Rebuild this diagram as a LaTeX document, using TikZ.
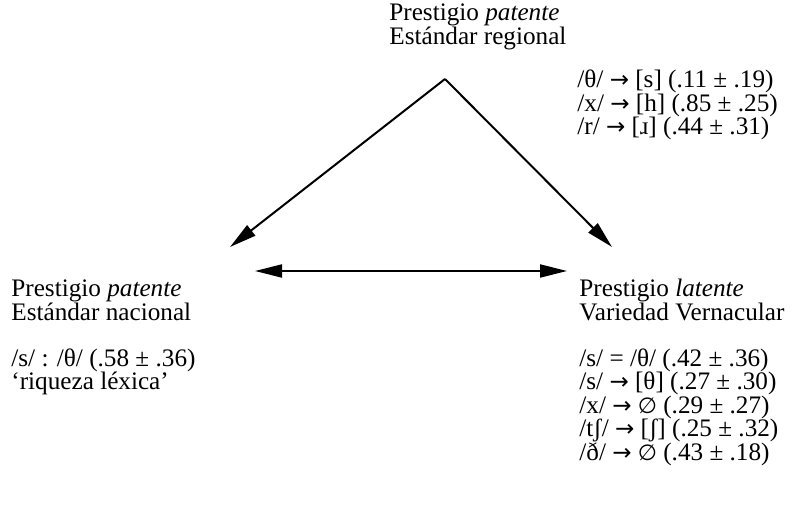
\documentclass[tikz,border=0pt]{standalone}
\usepackage{fontspec}
\setmainfont{Liberation Serif}
\newfontfamily\dvs{DejaVu Sans}
\usetikzlibrary{arrows.meta}
\newcommand{\emptyph}{{\dvs\fontsize{11}{12}\selectfont ∅}}
\newcommand{\toarr}{{\dvs\fontsize{11.5}{12}\selectfont →}}
\begin{document}
\begin{tikzpicture}[x=0.5pt,y=-0.5pt,
  txt/.style={anchor=base west,inner sep=0pt,font=\fontsize{12.6}{12}\selectfont},
  arr/.style={line width=1pt,-{Triangle[length=13.5pt,width=6.5pt]}},
  darr/.style={line width=1pt,{Triangle[length=13.5pt,width=6.5pt]}-{Triangle[length=13.5pt,width=6.5pt]}}]
\useasboundingbox (0,0) rectangle (791,513);
% top
\node[txt] (t1) at (389,21) {Prestigio \textit{patente}};
\node[txt] (t2) at (389,45) {Estándar regional};
\node[txt] (r1) at (577,88) {/θ/ \toarr{} [s] (.11 ± .19)};
\node[txt] (r2) at (577,111.5) {/x/ \toarr{} [h] (.85 ± .25)};
\node[txt] (r3) at (577,135) {/r/ \toarr{} [ɹ] (.44 ± .31)};
% left
\node[txt] (l1) at (11,296) {Prestigio \textit{patente}};
\node[txt] (l2) at (11,320) {Estándar nacional};
\node[txt] (l3) at (11,366) {/s/ : /θ/ (.58 ± .36)};
\node[txt] (l4) at (11,389.5) {‘riqueza léxica’};
% right
\node[txt] (v1) at (579,296) {Prestigio \textit{latente}};
\node[txt] (v2) at (579,320) {Variedad Vernacular};
\node[txt] (v3) at (579,366) {/s/ = /θ/ (.42 ± .36)};
\node[txt] (v4) at (579,389.5) {/s/ \toarr{} [θ] (.27 ± .30)};
\node[txt] (v5) at (579,413) {/x/ \toarr{} \emptyph{} (.29 ± .27)};
\node[txt] (v6) at (579,436.5) {/tʃ/ \toarr{} [ʃ] (.25 ± .32)};
\node[txt] (v7) at (579,460) {/ð/ \toarr{} \emptyph{} (.43 ± .18)};
% connectors
\coordinate (apex) at (445,79);
\coordinate (nat) at (230,247);
\coordinate (ver) at (612,247);
\coordinate (hl) at (255,271);
\coordinate (hr) at (567,271);
\draw[arr] (apex) -- (nat);
\draw[arr] (apex) -- (ver);
\draw[darr] (hl) -- (hr);
\end{tikzpicture}
\end{document}
